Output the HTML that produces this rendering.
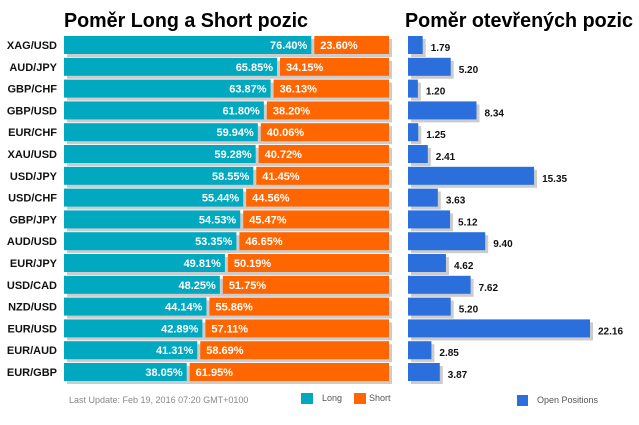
<!DOCTYPE html>
<html><head><meta charset="utf-8"><style>
body{margin:0;background:#fff;font-family:"Liberation Sans",sans-serif}
svg text{font-family:"Liberation Sans",sans-serif}
</style></head><body>
<svg width="639" height="420">
<text x="64" y="27" font-size="20" font-weight="bold" fill="#000" textLength="244" lengthAdjust="spacingAndGlyphs">Poměr Long a Short pozic</text>
<text x="405" y="27" font-size="20" font-weight="bold" fill="#000" textLength="228" lengthAdjust="spacingAndGlyphs">Poměr otevřených pozic</text>
<g id="bars"></g>
<text x="69" y="403" font-size="9" fill="#888">Last Update: Feb 19, 2016 07:20 GMT+0100</text>
<rect x="301" y="393" width="12" height="11" fill="#00a8c0"/>
<text x="322" y="401" font-size="9" fill="#555">Long</text>
<rect x="354" y="393" width="12" height="11" fill="#ff6600"/>
<text x="369" y="401" font-size="9" fill="#555">Short</text>
<rect x="517" y="395" width="11" height="11" fill="#2a6fdb"/>
<text x="537" y="403" font-size="9" fill="#555">Open Positions</text>
</svg>
<script>
const pairs=["XAG/USD","AUD/JPY","GBP/CHF","GBP/USD","EUR/CHF","XAU/USD","USD/JPY","USD/CHF","GBP/JPY","AUD/USD","EUR/JPY","USD/CAD","NZD/USD","EUR/USD","EUR/AUD","EUR/GBP"];
const longPct=[76.40,65.85,63.87,61.80,59.94,59.28,58.55,55.44,54.53,53.35,49.81,48.25,44.14,42.89,41.31,38.05];
const shortPct=[23.60,34.15,36.13,38.20,40.06,40.72,41.45,44.56,45.47,46.65,50.19,51.75,55.86,57.11,58.69,61.95];
const openPos=[1.79,5.20,1.20,8.34,1.25,2.41,15.35,3.63,5.12,9.40,4.62,7.62,5.20,22.16,2.85,3.87];
const NS="http://www.w3.org/2000/svg";
const g=document.getElementById('bars');
const L0=64,LW=325,R0=408,RS=182/22.16,Y0=36,P=21.8,H=18;
const x=p=>L0+LW*p/100, y=i=>Y0+i*P, xr=v=>R0+v*RS;
function mk(t,a,par){const e=document.createElementNS(NS,t);for(const k in a)e.setAttribute(k,a[k]);(par||g).appendChild(e);return e;}
pairs.forEach((p,i)=>{
 const yy=y(i);
 let t=mk('text',{x:57,y:yy+13,'font-size':11,'font-weight':'bold','text-anchor':'end',fill:'#111'});t.textContent=p;
 
 
 let s=mk('rect',{x:L0+3,y:yy+3,width:LW,height:H,fill:'#cccccc'});
 
 
 const xe=x(longPct[i]);
 let r=mk('rect',{x:L0,y:yy,width:xe-L0-1,height:H,fill:'#00a8c0'});
 
 
 let o=mk('rect',{x:xe+2,y:yy,width:L0+LW-xe-2,height:H,fill:'#ff6600'});
 
 
 t=mk('text',{x:xe-5,y:yy+13,'font-size':11,'font-weight':'bold','text-anchor':'end',fill:'#fff'});t.textContent=longPct[i].toFixed(2)+'%';
 
 
 t=mk('text',{x:xe+8,y:yy+13,'font-size':11,'font-weight':'bold',fill:'#fff'});t.textContent=shortPct[i].toFixed(2)+'%';
 
 
 const xo=xr(openPos[i]);
 s=mk('rect',{x:R0+3,y:yy+3,width:xo-R0,height:H,fill:'#cccccc'});
 
 
 r=mk('rect',{x:R0,y:yy,width:xo-R0,height:H,fill:'#2a6fdb'});
 
 
 t=mk('text',{x:xo+8,y:yy+15,'font-size':10,'font-weight':'bold',fill:'#111'});t.textContent=openPos[i].toFixed(2);
 
 
});
</script>
</body></html>
